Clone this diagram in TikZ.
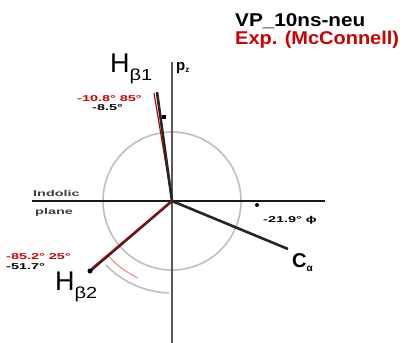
\documentclass[tikz,border=0pt]{standalone}
\usepackage{fontspec}
\setmainfont{Liberation Sans}
\newcommand{\wide}[1]{\scalebox{1.7}[1]{#1}}
\begin{document}
\begin{tikzpicture}[x=1pt,y=-1pt,
  axis/.style={line width=2.6pt,black!90},
  vaxis/.style={line width=2pt,black!65},
  bond/.style={line width=2.6pt,black!85},
  rbond/.style={line width=1.2pt,red!75!black},
  ring/.style={line width=1.6pt,black!25},
  small/.style={font=\bfseries\fontsize{8.5}{9}\selectfont,inner sep=0pt},
  rsmall/.style={small,text=red!80!black},
  big/.style={font=\fontsize{27}{28}\selectfont,inner sep=0pt},
  title/.style={font=\bfseries\fontsize{18.5}{19}\selectfont,inner sep=0pt,anchor=base west},
  dotm/.style={fill=black,inner sep=0pt,minimum size=4pt,circle}]
\useasboundingbox (0,0) rectangle (408,343);
\coordinate (O) at (172,201);
\coordinate (L) at (32,201);
\coordinate (R) at (325,201);
\coordinate (T) at (172,62);
\coordinate (B) at (172,343);
\coordinate (hb1) at (157,92);
\coordinate (hb1r) at (154,93);
\coordinate (hb2) at (90,271);
\coordinate (hb2r) at (92,268);
\coordinate (ca) at (288,249);
% circle and arcs (y axis points down: angles 90..180 lie lower left)
\draw[ring] (O) circle (69);
\draw[ring] (O) ++(136:92) arc[start angle=136,end angle=92,radius=92];
\draw[line width=0.8pt,red!60] (O) ++(139:84) arc[start angle=139,end angle=114,radius=84];
% axes
\draw[vaxis] (T) -- (B);
\draw[axis] (L) -- (R);
% bonds
\draw[rbond] (O) -- (hb1r);
\draw[bond] (O) -- (hb1);
\draw[bond] (O) -- (hb2);
\draw[rbond] (O) -- (hb2r);
\draw[bond] (O) -- (ca);
% markers
\node[dotm] (m1) at (257,205) {};
\node[dotm,rectangle,minimum size=4pt] (m2) at (164,117) {};
\node[dotm,minimum size=5pt] (m3) at (hb2) {};
% labels
\node[big,anchor=base west] (lh1) at (110,72) {H\raisebox{-8pt}{\scalebox{1.25}[1]{\fontsize{16}{16}\selectfont β1}}};
\node[big,anchor=base west] (lh2) at (55,290) {H\raisebox{-8pt}{\scalebox{1.25}[1]{\fontsize{16}{16}\selectfont β2}}};
\node[font=\bfseries\fontsize{15}{15}\selectfont,inner sep=0pt,anchor=base west] (pz) at (176,70) {p\raisebox{-2pt}{\fontsize{8}{8}\selectfont z}};
\node[font=\bfseries\fontsize{20}{20}\selectfont,inner sep=0pt,anchor=base west] (lca) at (292,267) {C\raisebox{-4pt}{\fontsize{10}{10}\selectfont α}};
\node[rsmall,anchor=base west] (a1) at (77,101) {\wide{-10.8° 85°}};
\node[small,anchor=base west] (a2) at (92,110) {\wide{-8.5°}};
\node[rsmall,anchor=base west] (a3) at (6,259) {\wide{-85.2° 25°}};
\node[small,anchor=base west] (a4) at (6,269) {\wide{-51.7°}};
\node[small,anchor=base west] (a5) at (263,222) {\wide{-21.9° ϕ}};
\node[small,text=black!75,anchor=base west] (ind) at (33,196) {\wide{Indolic}};
\node[small,text=black!75,anchor=base west] (pl) at (35,214) {\wide{plane}};
\node[title,text depth=0pt] (t1) at (235,26) {\scalebox{1.12}[1]{VP\_10ns-neu}};
\node[title,text height=13pt,text=red!80!black] (t2) at (235,44) {\scalebox{1.08}[1]{Exp. (McConnell)}};
\end{tikzpicture}
\end{document}
